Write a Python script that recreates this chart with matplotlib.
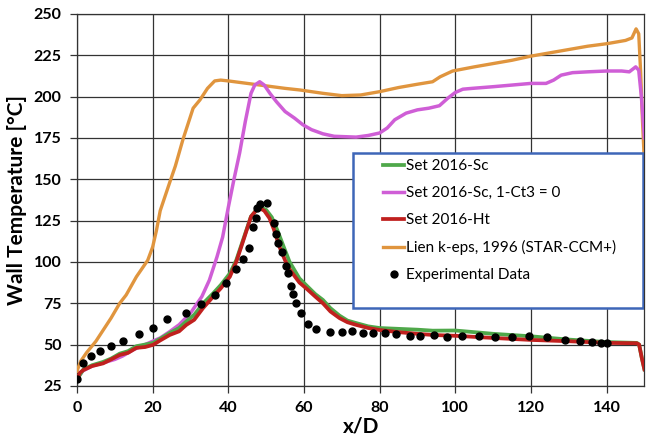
"""Wall temperature along x/D: CFD model sets vs experimental data."""

import matplotlib
matplotlib.use("Agg")
import matplotlib.pyplot as plt
from matplotlib.patches import Rectangle

plt.rcParams["font.family"] = ["Lato", "DejaVu Sans"]

# Set 2016-Sc
sc_x = [0, 1.7, 4, 6.9, 9, 11.3, 13.5, 15.7, 18, 20.1, 22, 24.5, 27, 28.9, 31, 33.3,
        36, 38, 40.4, 42.1, 44.3, 46, 47.3, 48.5, 50, 51.5, 53, 54.5, 56.2, 58.8, 61,
        63, 65, 67, 69.4, 71.5, 73.8, 77, 80, 85, 90, 94, 100, 110, 120, 130, 140,
        148, 148.6, 149.3, 150]
sc_y = [29, 35, 37.5, 39.5, 41.5, 44.5, 46, 49, 50, 51, 53.5, 57, 60, 64, 68, 74.8,
        81, 86, 93, 101, 116, 127.5, 131, 133, 131.5, 127, 119, 110, 100, 90, 85,
        80.5, 77, 72, 67.5, 64.5, 63, 61, 60, 59.5, 59, 58.4, 58.5, 56.5, 55, 53,
        51.5, 51, 50, 42, 35]

# Set 2016-Sc, 1-Ct3 = 0
ct3_x = [0, 1.5, 4, 7, 10, 12, 15, 18, 20, 22, 24.5, 27, 30, 33, 35, 37, 38.5, 40,
         41.5, 43, 44.5, 46, 47, 48.3, 49.5, 51, 52.7, 55, 57.5, 59.7, 62, 65, 68,
         73.8, 77, 80, 82, 84, 87, 90, 93, 95.8, 98, 100, 102, 104.5, 110, 115, 120,
         124, 126, 128, 131, 135, 140, 144, 146, 147.7, 148.5, 149.2, 150]
ct3_y = [29, 34, 37, 39, 41, 43, 47, 50, 52, 54, 57.8, 62, 69, 79, 89, 103, 115, 133,
         150, 166, 185, 202, 207, 209, 207, 202, 197, 191, 187, 183, 180, 177.5, 176,
         175.5, 176.5, 178, 181, 186, 190, 192, 193, 194.5, 199, 202.5, 204.5, 205,
         206, 207, 208, 208, 210, 213, 214.5, 215, 215.5, 215.5, 215, 218, 216, 200,
         175]

# Set 2016-Ht
ht_x = [0, 0.8, 1.7, 4, 6.9, 9, 11.3, 13.5, 15.7, 18, 20.1, 22, 24.5, 27, 28.9, 31,
        33.3, 36, 38, 40.4, 42.1, 44.3, 46, 47.3, 48.3, 49.5, 50.9, 52, 53.5, 55,
        56.2, 58.8, 60.6, 63, 65, 67, 69.4, 71.5, 73.8, 77, 80, 85, 90, 94, 100, 110,
        120, 130, 140, 148, 148.6, 149.3, 150]
ht_y = [29, 33, 34.6, 37, 38.6, 41, 43.7, 45, 48, 48.5, 49.8, 52.5, 55.8, 58, 61.9,
        65, 72, 79, 84, 91, 100, 115.3, 127.4, 131, 132.5, 131, 126.4, 120, 109.3,
        101, 95.5, 87.5, 84, 79, 75, 70, 66, 63.5, 61.9, 60, 58.8, 57.5, 56.5, 55.8,
        55.3, 54, 52.8, 52, 51, 50.8, 50, 42, 35]

# Lien k-eps, 1996 (STAR-CCM+)
lien_x = [0, 1, 2.5, 5, 7, 9, 11.3, 13, 15.7, 18.7, 20, 21, 22, 24.5, 26, 28, 30.7,
          32.5, 34.5, 36.4, 38, 40, 45, 50, 55, 59, 65, 70, 75, 80, 85, 90, 94, 96,
          99.3, 105, 110, 115, 120, 125, 130, 135, 140, 145, 146.7, 147.8, 148.5, 149,
          149.5, 150]
lien_y = [34, 40, 45, 52, 59, 66, 75, 80, 91, 101, 109, 119, 131, 148, 158, 174, 193,
          198, 205, 209.5, 210, 209.5, 208, 206.5, 205, 204, 202, 200.6, 201, 203,
          205.5, 207.5, 209, 212, 215.5, 218, 220, 222, 224.5, 226.5, 228.5, 230.5,
          232, 234, 235.5, 241, 238, 215, 185, 160]

# Experimental data
exp_x = [0.1, 1.7, 3.6, 6.1, 8.9, 12.2, 16.4, 20.1, 23.7, 28.9, 32.9, 36.4, 39.5,
         42.1, 43.9, 45.5, 46.5, 47.2, 47.6, 48.5, 50.2, 52, 52.7, 53.1, 54.3, 55.3,
         55.9, 56.6, 57.2, 57.9, 59.2, 61, 63.2, 66.8, 70.1, 72.7, 75.6, 78.2, 81.5,
         84.4, 87.9, 90.7, 94.4, 97.7, 101.8, 106.3, 110.4, 115, 119.4, 124.3, 129,
         132.9, 136.2, 138.4, 140.2]
exp_y = [29, 38.7, 43.3, 46.1, 49.3, 52.2, 56.2, 60.2, 65.3, 68.9, 74.6, 80, 87.5,
         95.5, 101.6, 108.3, 121, 126.4, 132.5, 135, 135.5, 123.4, 116.9, 111.3, 106.2,
         97.6, 93.1, 85.5, 80.6, 75, 69, 62.5, 59.2, 57.4, 57.4, 58.4, 57.2, 57.2, 56.8,
         56.2, 55.4, 55.2, 55.6, 54.8, 55.2, 55.2, 54.4, 54.4, 55.2, 54.4, 52.8, 52.2,
         51.4, 50.8, 50.8]

x_ticks = [0, 20, 40, 60, 80, 100, 120, 140]
y_ticks = [25, 50, 75, 100, 125, 150, 175, 200, 225, 250]

fig = plt.figure(figsize=(6.47, 4.37), dpi=100)
ax = fig.add_axes([0.119, 0.117, 0.877, 0.851])

ax.plot(lien_x, lien_y, color="#E0953E", lw=2.4, label="Lien k-eps, 1996 (STAR-CCM+)", zorder=3)
ax.plot(ct3_x, ct3_y, color="#CF5ED6", lw=2.5, label="Set 2016-Sc, 1-Ct3 = 0", zorder=4)
ax.plot(sc_x, sc_y, color="#4FA84A", lw=2.7, label="Set 2016-Sc", zorder=5)
ax.plot(ht_x, ht_y, color="#C0201E", lw=2.7, label="Set 2016-Ht", zorder=6)
ax.plot(exp_x, exp_y, "o", color="black", ms=5, label="Experimental Data", zorder=7)

ax.set_xlim(0, 150)
ax.set_ylim(25, 250)
ax.set_xticks(x_ticks)
ax.set_yticks(y_ticks)
ax.grid(True, color="#333333", lw=0.9)
ax.set_axisbelow(True)
for s in ax.spines.values():
    s.set_color("#333333")
    s.set_linewidth(0.9)
ax.tick_params(direction="out", length=5, width=0.9, color="#333333", pad=6,
               labelsize=11.5)
for lab in ax.get_xticklabels() + ax.get_yticklabels():
    lab.set_fontweight("bold")

ax.set_xlabel("x/D", fontsize=15, fontweight="bold", labelpad=1)
ax.set_ylabel("Wall Temperature [°C]", fontsize=15, fontweight="bold", labelpad=5)

# legend box drawn separately so padding can match the original
box = Rectangle((0.486, 0.21), 0.512, 0.416, transform=ax.transAxes,
                facecolor="white", edgecolor="#3E66B8", lw=1.8, zorder=10)
ax.add_patch(box)

handles, labels = ax.get_legend_handles_labels()
order = [2, 1, 3, 0, 4]
leg = ax.legend([handles[i] for i in order], [labels[i] for i in order],
                loc="upper left", bbox_to_anchor=(0.539, 0.61), frameon=False,
                fontsize=11, handlelength=1.4, handletextpad=0.1,
                labelspacing=0.85, borderpad=0, borderaxespad=0)
leg.set_zorder(11)

fig.savefig("out.png", dpi=100)
